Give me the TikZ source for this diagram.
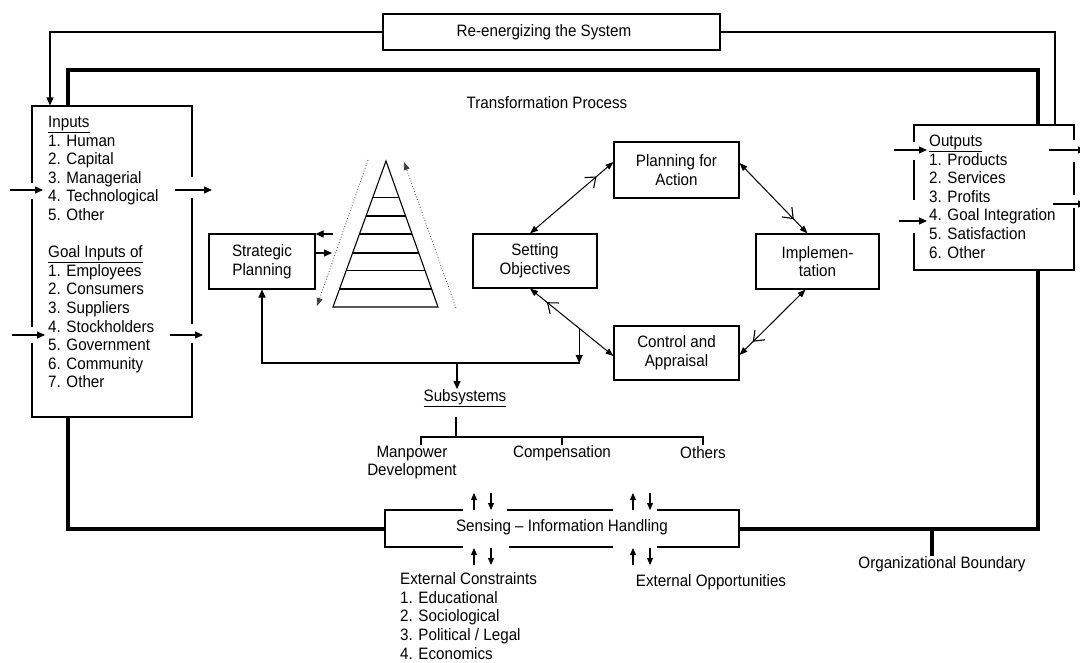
\documentclass[tikz,border=0pt]{standalone}
\usepackage{fontspec}
\setmainfont[FakeStretch=0.92]{Liberation Sans}
\usetikzlibrary{arrows.meta,calc,decorations.markings}
\begin{document}
\begin{tikzpicture}[x=1pt,y=-1pt,
  every node/.style={font=\fontsize{16.5}{18.6}\selectfont, inner sep=0pt},
  box/.style={draw, line width=1.1pt, align=center},
  ln/.style={line width=1.1pt},
  arr/.style={line width=1.1pt, -{Triangle[length=8pt,width=7pt]}},
  smallarr/.style={line width=1.1pt, -{Triangle[length=7pt,width=6pt]}},
  bound/.style={line width=4pt},
  dotarr/.style={dotted, line width=0.8pt, black!75, -{Triangle[length=8pt,width=6pt]}},
  cyc/.style={line width=1pt, {Triangle[length=8pt,width=6pt]}-{Triangle[length=8pt,width=6pt]},
    postaction={decorate},
    decoration={markings, mark=at position 0.8 with {\arrow[line width=1.1pt]{Straight Barb[length=9pt,width=14pt]}}}},
  gap/.style={fill=white, draw=none}
]
\useasboundingbox (0,0) rectangle (1080,662);
\fill[white] (0,0) rectangle (1080,662);

% ---------- main boxes ----------
\node[box, minimum width=160pt, minimum height=311pt] (inp) at (112,261.5) {};
\node[box, minimum width=160pt, minimum height=145pt] (out) at (994,197.5) {};
\node[box, minimum width=337pt, minimum height=36pt] (re) at (551.5,32) {};
\node[box, minimum width=354pt, minimum height=37pt] (sens) at (562,528.5) {};

\node[box, minimum width=106pt, minimum height=55pt] (sp) at (262,261.5) {Strategic\\Planning};
\node[box, minimum width=124pt, minimum height=54pt] (so) at (535,261) {Setting\\Objectives};
\node[box, minimum width=125pt, minimum height=56pt] (pa) at (676.5,170) {Planning for\\Action};
\node[box, minimum width=123pt, minimum height=55pt] (impl) at (817.5,261.5) {Implemen-\\tation};
\node[box, minimum width=125pt, minimum height=54pt] (ca) at (676.5,353) {Control and\\Appraisal};

% ---------- texts ----------
\node (retxt) at (544,32) {Re-energizing the System};
\node (senstxt) at (562,527) {Sensing -- Information Handling};
\node (tp) at (547,103) {Transformation Process};

\node[anchor=north west, align=left] (inptxt) at (48,116)
  {\underline{Inputs}\\1. Human\\2. Capital\\3. Managerial\\4. Technological\\5. Other\\[18.6pt]
   \underline{Goal Inputs of}\\1. Employees\\2. Consumers\\3. Suppliers\\4. Stockholders\\5. Government\\6. Community\\7. Other};
\node[anchor=north west, align=left] (outtxt) at (929,134.7)
  {\underline{Outputs}\\1. Products\\2. Services\\3. Profits\\4. Goal Integration\\5. Satisfaction\\6. Other};
\node[anchor=north west, align=left] (ectxt) at (400,572.5)
  {External Constraints\\1. Educational\\2. Sociological\\3. Political / Legal\\4. Economics};
\node (eo) at (711,582) {External Opportunities};
\node (ob) at (942,564) {Organizational Boundary};

\node (subs) at (465,398) {\underline{Subsystems}};
\node[align=center] (mp) at (412,462.5) {Manpower\\Development};
\node (comp) at (562,453) {Compensation};
\node (oth) at (703,453) {Others};

% ---------- openings in box borders where arrows pass ----------
\fill[gap] (29,183) rectangle (35,199);
\fill[gap] (29,327) rectangle (35,343);
\fill[gap] (189,177) rectangle (195,198);
\fill[gap] (189,324) rectangle (195,343);
\fill[gap] (911,142) rectangle (917,160);
\fill[gap] (911,200) rectangle (917,233);
\fill[gap] (1071,140) rectangle (1077,162);
\fill[gap] (1071,195) rectangle (1077,208);
\fill[gap] (463,507) rectangle (507,513);
\fill[gap] (613,507) rectangle (657,513);
\fill[gap] (463,544) rectangle (509,550);
\fill[gap] (613,544) rectangle (657,550);

% ---------- organizational boundary ----------
\coordinate (bTL) at (68,70);
\coordinate (bTR) at (1038,70);
\coordinate (bBL) at (68,528.5);
\coordinate (bBR) at (1038,528.5);
\draw[bound] (inp.north -| bTL) -- (bTL) -- (bTR) -- (out.north -| bTR);
\draw[bound] (inp.south -| bBL) -- (bBL) -- (sens.west);
\draw[bound] (sens.east) -- (bBR) -- (out.south -| bBR);
\coordinate (obt) at (932,528.5);
\draw[bound] (obt) -- (obt |- ob.north);

% ---------- re-energizing loop ----------
\coordinate (fl) at (50,32);
\coordinate (fr) at (1055,32);
\draw[arr] (re.west) -- (fl) -- (fl |- inp.north);
\draw[ln] (re.east) -- (fr) -- (fr |- out.north);

% ---------- input and output arrows ----------
\coordinate (i1a) at (10,190);  \coordinate (i1b) at (43,190);
\coordinate (i2a) at (175,190); \coordinate (i2b) at (212,190);
\coordinate (i3a) at (12,335);  \coordinate (i3b) at (45,335);
\coordinate (i4a) at (170,335); \coordinate (i4b) at (203,335);
\draw[arr] (i1a) -- (i1b);
\draw[arr] (i2a) -- (i2b);
\draw[arr] (i3a) -- (i3b);
\draw[arr] (i4a) -- (i4b);
\coordinate (o1a) at (894,150);  \coordinate (o1b) at (927,150);
\coordinate (o2a) at (899,221);  \coordinate (o2b) at (927,221);
\coordinate (o3a) at (1049,150); \coordinate (o3b) at (1086,150);
\coordinate (o4a) at (1053,204); \coordinate (o4b) at (1086,204);
\draw[arr] (o1a) -- (o1b);
\draw[arr] (o2a) -- (o2b);
\draw[arr] (o3a) -- (o3b);
\draw[arr] (o4a) -- (o4b);

% ---------- hierarchy pyramid ----------
\coordinate (apex) at (386,161);
\coordinate (pbl) at (333,307);
\coordinate (pbr) at (438,307);
\draw[ln] (apex) -- (pbl) -- (pbr) -- cycle;
\foreach \t in {0.247,0.377,0.5,0.63,0.753,0.877}
  \draw[ln] ($(apex)!\t!(pbl)$) -- ($(apex)!\t!(pbr)$);
\coordinate (dl1) at (368,160); \coordinate (dl2) at (317,306);
\coordinate (dr1) at (456,308); \coordinate (dr2) at (404,162);
\draw[dotarr] (dl1) -- (dl2);
\draw[dotarr] (dr1) -- (dr2);
\coordinate (pyrA) at (333,234);
\coordinate (pyrB) at (332,253);
\draw[arr] (pyrA) -- (pyrA -| sp.east);
\draw[arr] (sp.east |- pyrB) -- (pyrB);

% ---------- planning cycle ----------
\coordinate (soN) at ([xshift=-5pt]so.north);
\coordinate (soS) at ([xshift=-5pt]so.south);
\coordinate (paW) at ([yshift=8pt]pa.west);
\coordinate (paE) at ([yshift=7pt]pa.east);
\coordinate (imN) at ([xshift=-10pt]impl.north);
\coordinate (imS) at ([xshift=-12pt]impl.south);
\coordinate (caE) at ([yshift=-2pt]ca.east);
\coordinate (caW) at ([yshift=-3pt]ca.west);
\draw[cyc] (soN) -- (paW);
\draw[cyc] (paE) -- (imN);
\draw[cyc] (imS) -- (caE);
\draw[cyc] (caW) -- (soS);

% ---------- feedback to strategic planning and subsystems ----------
\coordinate (fbs) at ($(caW)!0.41!(soS)$);
\coordinate (fbR) at (580,363);
\coordinate (subsplit) at (457,363);
\draw[arr] (fbR) -| (sp.south);
\draw[arr] (fbs) -- (fbs |- fbR);
\draw[arr] (subsplit) -- (subsplit |- subs.north);

% ---------- subsystem tree ----------
\coordinate (tt) at (456,417);
\coordinate (tj) at (456,437);
\coordinate (tl) at (421,437);
\coordinate (tm) at (562,437);
\coordinate (tr) at (703,437);
\draw[ln] (tt) -- (tj);
\draw[ln] ([yshift=-8pt]tl) -- (tl) -- (tr) -- ([yshift=-8pt]tr);
\draw[ln] (tm) -- ([yshift=-8pt]tm);

% ---------- sensing arrows ----------
\foreach \xu/\xd in {474/491, 633/650} {
  \draw[smallarr] (\xu,510) -- (\xu,493);
  \draw[smallarr] (\xd,493) -- (\xd,510);
  \draw[smallarr] (\xu,565) -- (\xu,548);
  \draw[smallarr] (\xd,548) -- (\xd,565);
}
\end{tikzpicture}
\end{document}
